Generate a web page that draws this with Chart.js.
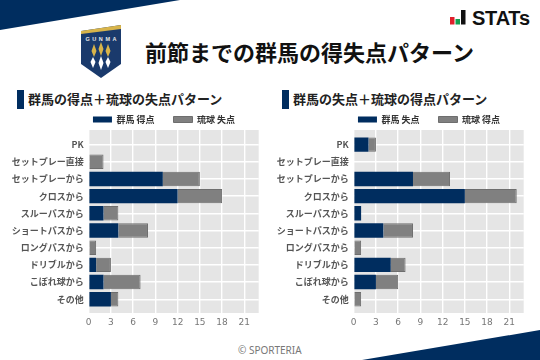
<!DOCTYPE html>
<html lang="ja">
<head>
<meta charset="utf-8">
<title>前節までの群馬の得失点パターン</title>
<script src="https://cdn.jsdelivr.net/npm/chart.js@4"></script>
<style>
  html, body { margin: 0; padding: 0; background: #fff; }
  #page { position: relative; width: 540px; height: 360px; overflow: hidden; font-family: "Noto Sans CJK JP", sans-serif; }
  #deco { position: absolute; left: 0; top: 0; }
  .title { position: absolute; left: 145px; top: 35px; font-size: 22px; line-height: 32px; font-weight: 700; color: #111; white-space: nowrap; }
  .sub { position: absolute; top: 89px; font-size: 13px; line-height: 20px; font-weight: 700; color: #222; white-space: nowrap; }
  .mark { position: absolute; top: 90px; width: 7px; height: 19px; background: #002d5f; }
  .copy { position: absolute; left: 238px; top: 343px; font-size: 10px; line-height: 14px; color: #777; font-family: "Noto Sans", sans-serif; white-space: nowrap; }
  canvas { position: absolute; }
</style>
</head>
<body>
<div id="page">
  <svg id="deco" width="540" height="360">
    <polygon points="0,0 180,0 0,30" fill="#002d5f"/>
    <polygon points="362,360 540,330 540,360" fill="#002d5f"/>
    <!-- crest -->
    <polygon points="81,31 121,25 121,64 101,78 81,64" fill="#1a3a6c"/>
    <polygon points="81,31 121,25 121,29 81,34" fill="#d8b44a"/>
    <text x="101" y="41" font-size="5.5" font-weight="700" fill="#e8e8e8" text-anchor="middle" font-family="Liberation Sans" textLength="31">GUNMA</text>
    <g fill="#d8b44a">
      <polygon points="94,44 96.5,51 94,57 91.5,51"/>
      <polygon points="101,42 103.5,49 101,56 98.5,49"/>
      <polygon points="108,44 110.5,51 108,57 105.5,51"/>
    </g>
    <g fill="#fff">
      <polygon points="93,57 95.5,62 93,68 90.5,62"/>
      <polygon points="101,56 103.5,63 101,70 98.5,63"/>
      <polygon points="108,57 110.5,62 108,68 105.5,62"/>
    </g>
    <!-- STATs logo -->
    <rect x="450" y="17" width="4.5" height="7.5" fill="#e0202c"/>
    <rect x="455.5" y="19" width="4.5" height="5.5" fill="#12a050"/>
    <rect x="461" y="10" width="4.5" height="14.5" fill="#111"/>
    <text x="472" y="24.5" font-size="20" font-weight="700" fill="#111" font-family="Liberation Sans" textLength="58">STATs</text>
  </svg>
  <div class="title">前節までの群馬の得失点パターン</div>
  <div class="mark" style="left:17px"></div>
  <div class="sub" style="left:28px">群馬の得点＋琉球の失点パターン</div>
  <div class="mark" style="left:282px"></div>
  <div class="sub" style="left:293px">群馬の失点＋琉球の得点パターン</div>
  <canvas id="chartLeft" width="258" height="237" style="left:12px;top:96px"></canvas>
  <canvas id="chartRight" width="263" height="237" style="left:277px;top:96px"></canvas>
  <div class="copy">© SPORTERIA</div>
</div>
<script>
const categories = ['PK', 'セットプレー直接', 'セットプレーから', 'クロスから', 'スルーパスから', 'ショートパスから', 'ロングパスから', 'ドリブルから', 'こぼれ球から', 'その他'];
const xTicks = [0, 3, 6, 9, 12, 15, 18, 21];

const gunmaScored = [0, 0, 10, 12, 2, 4, 0, 1, 2, 3];
const ryukyuConceded = [0, 2, 5, 6, 2, 4, 1, 2, 5, 1];
const gunmaConceded = [2, 0, 8, 15, 1, 4, 0, 5, 3, 0];
const ryukyuScored = [1, 0, 5, 7, 0, 4, 1, 2, 3, 1];

const NAVY = '#002d5f';
const GRAY = '#808080';

const toPoints = (values) => values.map((v, i) => ({ x: v, y: i }));

// grey panel behind the grid
const panel = {
    id: 'panel',
    beforeDraw(chart) {
        const { ctx, chartArea: a } = chart;
        ctx.save();
        ctx.fillStyle = '#e5e5e5';
        ctx.fillRect(a.left, a.top, a.width, a.height);
        ctx.restore();
    },
};

// legend sits tighter to the plot and further right than the default layout puts it
const legendPlace = {
    id: 'legendPlace',
    beforeInit(chart) {
        const fit = chart.legend.fit;
        chart.legend.fit = function () {
            fit.call(this);
            this.height = 34;
        };
    },
    afterLayout(chart) {
        chart.legend.left += 28.65;
        chart.legend.right += 28.65;
    },
};

const makeChart = (id, padRight, navyLabel, navyValues, grayLabel, grayValues) => {
    new Chart(document.getElementById(id), {
        type: 'bar',
        plugins: [panel, legendPlace],
        data: {
            datasets: [
                { label: navyLabel, data: toPoints(navyValues), backgroundColor: NAVY, borderColor: NAVY, borderWidth: 0 },
                { label: grayLabel, data: toPoints(grayValues), backgroundColor: GRAY, borderColor: '#6e6e6e', borderWidth: 1 },
            ],
        },
        options: {
            indexAxis: 'y',
            responsive: false,
            animation: false,
            barPercentage: 0.84,
            categoryPercentage: 1,
            layout: { padding: { left: 0, right: padRight, top: 0, bottom: 0 } },
            plugins: {
                tooltip: { enabled: false },
                legend: {
                    position: 'top',
                    labels: {
                        boxWidth: 19,
                        boxHeight: 6,
                        padding: 19,
                        color: '#333',
                        font: { family: '"Noto Sans CJK JP"', size: 9, weight: 'bold' },
                    },
                },
            },
            scales: {
                x: {
                    type: 'linear',
                    stacked: true,
                    min: 0,
                    max: 22.94,
                    afterBuildTicks: (axis) => { axis.ticks = xTicks.map((value) => ({ value })); },
                    afterFit: (axis) => { axis.height = 20; },
                    border: { display: false },
                    grid: { color: '#fff', lineWidth: 1.4, drawTicks: false },
                    ticks: { maxRotation: 0, padding: 4, color: '#777', font: { family: '"DejaVu Sans"', size: 9 } },
                },
                y: {
                    type: 'linear',
                    stacked: true,
                    reverse: true,
                    offset: false,
                    min: -0.85,
                    max: 9.8,
                    afterFit: (axis) => { axis.width = 76.7; },
                    border: { display: false },
                    grid: { color: '#fff', lineWidth: 1.4, offset: false, drawTicks: false },
                    ticks: {
                        stepSize: 1,
                        includeBounds: false,
                        autoSkip: false,
                        padding: 5,
                        color: '#555',
                        font: { family: '"Noto Sans CJK JP"', size: 9, weight: 'bold' },
                        callback: (value) => categories[value],
                    },
                },
            },
        },
    });
};

makeChart('chartLeft', 11.3, '群馬 得点', gunmaScored, '琉球 失点', ryukyuConceded);
makeChart('chartRight', 16.3, '群馬 失点', gunmaConceded, '琉球 得点', ryukyuScored);
</script>
</body>
</html>
